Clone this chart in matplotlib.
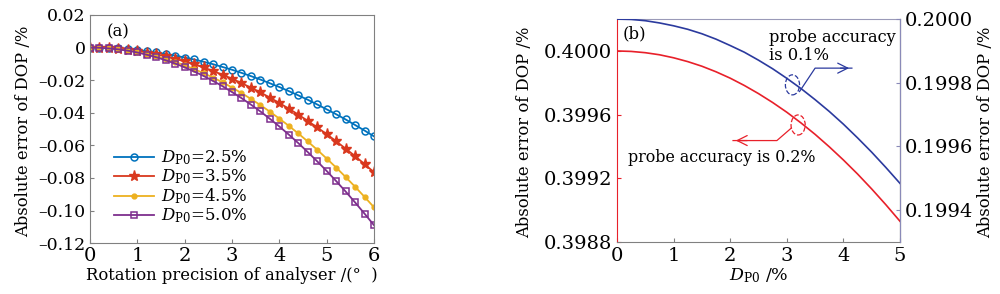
import matplotlib.pyplot as plt
from matplotlib.patches import Ellipse

plt.rcParams.update({
    "font.family": "DejaVu Serif",
    "mathtext.fontset": "dejavuserif",
    "font.size": 12,
    "xtick.labelsize": 14,
    "ytick.labelsize": 14,
    "xtick.direction": "in",
    "ytick.direction": "in",
})

# (a) data: rotation precision of analyser (deg), step 0.2
angle = [0.0, 0.2, 0.4, 0.6, 0.8, 1.0, 1.2, 1.4, 1.6, 1.8, 2.0, 2.2, 2.4, 2.6, 2.8, 3.0,
         3.2, 3.4, 3.6, 3.8, 4.0, 4.2, 4.4, 4.6, 4.8, 5.0, 5.2, 5.4, 5.6, 5.8, 6.0]
err_25 = [0, -0.0001, -0.0002, -0.0005, -0.0010, -0.0015, -0.0022, -0.0030, -0.0039, -0.0049,
          -0.0061, -0.0073, -0.0087, -0.0102, -0.0119, -0.0136, -0.0155, -0.0175, -0.0196, -0.0219,
          -0.0242, -0.0267, -0.0293, -0.0320, -0.0349, -0.0379, -0.0409, -0.0441, -0.0475, -0.0509, -0.0545]
err_35 = [0, -0.0001, -0.0003, -0.0008, -0.0014, -0.0021, -0.0031, -0.0042, -0.0054, -0.0069,
          -0.0085, -0.0103, -0.0122, -0.0144, -0.0167, -0.0191, -0.0218, -0.0246, -0.0275, -0.0307,
          -0.0340, -0.0375, -0.0411, -0.0450, -0.0490, -0.0531, -0.0575, -0.0620, -0.0666, -0.0715, -0.0765]
err_45 = [0, -0.0001, -0.0004, -0.0010, -0.0017, -0.0027, -0.0039, -0.0053, -0.0070, -0.0088,
          -0.0109, -0.0132, -0.0157, -0.0184, -0.0213, -0.0245, -0.0279, -0.0315, -0.0353, -0.0393,
          -0.0436, -0.0480, -0.0527, -0.0576, -0.0627, -0.0681, -0.0736, -0.0794, -0.0854, -0.0916, -0.0980]
err_50 = [0, -0.0001, -0.0005, -0.0011, -0.0019, -0.0030, -0.0044, -0.0059, -0.0078, -0.0098,
          -0.0121, -0.0147, -0.0174, -0.0205, -0.0237, -0.0273, -0.0310, -0.0350, -0.0392, -0.0437,
          -0.0484, -0.0534, -0.0586, -0.0641, -0.0698, -0.0757, -0.0819, -0.0883, -0.0950, -0.1019, -0.1090]
yticks_a = [-0.12, -0.10, -0.08, -0.06, -0.04, -0.02, 0, 0.02]
ylabels_a = ["\u20130.12", "\u20130.10", "\u20130.08", "\u20130.06", "\u20130.04", "\u20130.02", "0", "0.02"]

# (b) data: DP0 (%), step 0.25
dp0 = [0.0, 0.25, 0.5, 0.75, 1.0, 1.25, 1.5, 1.75, 2.0, 2.25, 2.5,
       2.75, 3.0, 3.25, 3.5, 3.75, 4.0, 4.25, 4.5, 4.75, 5.0]
err_02 = [0.400000, 0.399997, 0.399989, 0.399976, 0.399957, 0.399933, 0.399904, 0.399869,
          0.399829, 0.399783, 0.399732, 0.399676, 0.399615, 0.399548, 0.399476, 0.399398,
          0.399315, 0.399227, 0.399133, 0.399034, 0.398930]
err_01 = [0.200000, 0.199999, 0.199995, 0.199988, 0.199979, 0.199968, 0.199954, 0.199937,
          0.199917, 0.199896, 0.199871, 0.199844, 0.199814, 0.199782, 0.199747, 0.199710,
          0.199670, 0.199627, 0.199582, 0.199534, 0.199484]

fig = plt.figure(figsize=(10, 2.94), dpi=100)
spine_c = "#808080"

# ---------------- (a) ----------------
ax1 = fig.add_axes([0.09, 0.173, 0.284, 0.776])
ax1.plot(angle, err_25, "-o", color="#0072BD", ms=5, mfc="none", mew=1.1, lw=1.3, label=r"$D_{\rm P0}$=2.5%")
ax1.plot(angle, err_35, "-*", color="#D9381E", ms=8, lw=1.3, label=r"$D_{\rm P0}$=3.5%")
ax1.plot(angle, err_45, "-o", color="#EDB120", ms=3.5, lw=1.3, label=r"$D_{\rm P0}$=4.5%")
ax1.plot(angle, err_50, "-s", color="#7E2F8E", ms=4.5, mfc="none", mew=1.1, lw=1.3, label=r"$D_{\rm P0}$=5.0%")
ax1.set_xlim(0, 6)
ax1.set_ylim(-0.12, 0.02)
ax1.set_xticks(range(7))
ax1.set_yticks(yticks_a)
ax1.set_yticklabels(ylabels_a, fontsize=12.5)
ax1.set_xlabel("Rotation precision of analyser /(\u00b0  )", fontsize=11.8, labelpad=1)
ax1.set_ylabel("Absolute error of DOP /%", fontsize=11.8)
ax1.yaxis.set_label_coords(-0.204, 0.49)
ax1.text(0.06, 0.965, "(a)", transform=ax1.transAxes, va="top", ha="left")
for s in ax1.spines.values():
    s.set_color(spine_c)
ax1.tick_params(length=3, color=spine_c, pad=3)
ax1.legend(loc="upper left", bbox_to_anchor=(0.085, 0.415), frameon=False, handlelength=2.4,
           handletextpad=0.4, labelspacing=0.02, borderpad=0, borderaxespad=0)

# ---------------- (b) ----------------
red_c = "#E8202A"
blue_c = "#2B3A9E"
ax2 = fig.add_axes([0.617, 0.177, 0.283, 0.758])
ax2.plot(dp0, err_02, color=red_c, lw=1.2)
ax2.set_xlim(0, 5)
ax2.set_ylim(0.3988, 0.4002)
ax2.set_xticks(range(6))
ax2.set_yticks([0.3988, 0.3992, 0.3996, 0.4000])
ax2.set_yticklabels(["0.3988", "0.3992", "0.3996", "0.4000"])
ax2.set_xlabel(r"$D_{\rm P0}$ /%", fontsize=12.5, labelpad=1)
ax2.set_ylabel("Absolute error of DOP /%", fontsize=11.8)
ax2.yaxis.set_label_coords(-0.297, 0.49)
ax2.text(0.02, 0.97, "(b)", transform=ax2.transAxes, va="top", ha="left")
ax2.spines["left"].set_color(red_c)
ax2.spines["bottom"].set_color(spine_c)
ax2.spines["top"].set_color("#9a9ab8")
ax2.tick_params(axis="x", length=3, color=spine_c)
ax2.tick_params(axis="y", length=3, color=red_c)

ax3 = ax2.twinx()
ax3.plot(dp0, err_01, color=blue_c, lw=1.2)
ax3.set_ylim(0.1993, 0.2000)
ax3.set_yticks([0.1994, 0.1996, 0.1998, 0.2000])
ax3.set_yticklabels(["0.1994", "0.1996", "0.1998", "0.2000"])
ax3.set_ylabel("Absolute error of DOP /%", fontsize=11.8)
ax3.yaxis.set_label_coords(1.272, 0.49)
ax3.spines["right"].set_color("#8a8ab8")
ax3.spines["left"].set_visible(False)
ax3.spines["top"].set_visible(False)
ax3.spines["bottom"].set_visible(False)
ax3.tick_params(axis="y", length=3, color="#8a8ab8")

# annotations (in axes fraction of ax2)
ax2.add_patch(Ellipse((0.62, 0.705), 0.05, 0.09, transform=ax2.transAxes, fill=False,
                      ls="--", color=blue_c, lw=0.9))
ax2.plot([0.645, 0.70, 0.83], [0.675, 0.78, 0.78], transform=ax2.transAxes, color=blue_c, lw=0.9)
ax2.annotate("", xy=(0.83, 0.78), xytext=(0.78, 0.78), xycoords="axes fraction",
             arrowprops=dict(arrowstyle="->", color=blue_c, lw=0.9, mutation_scale=18))
ax2.add_patch(Ellipse((0.64, 0.525), 0.05, 0.09, transform=ax2.transAxes, fill=False,
                      ls="--", color=red_c, lw=0.9))
ax2.plot([0.615, 0.565, 0.41], [0.51, 0.455, 0.455], transform=ax2.transAxes, color=red_c, lw=0.9)
ax2.annotate("", xy=(0.41, 0.455), xytext=(0.47, 0.455), xycoords="axes fraction",
             arrowprops=dict(arrowstyle="->", color=red_c, lw=0.9, mutation_scale=18))
ax2.text(0.536, 0.955, "probe accuracy\nis 0.1%", transform=ax2.transAxes, va="top", ha="left",
         fontsize=11.7, linespacing=1.1)
ax2.text(0.04, 0.415, "probe accuracy is 0.2%", transform=ax2.transAxes, va="top", ha="left",
         fontsize=11.4)

fig.savefig("out.png", dpi=100)
